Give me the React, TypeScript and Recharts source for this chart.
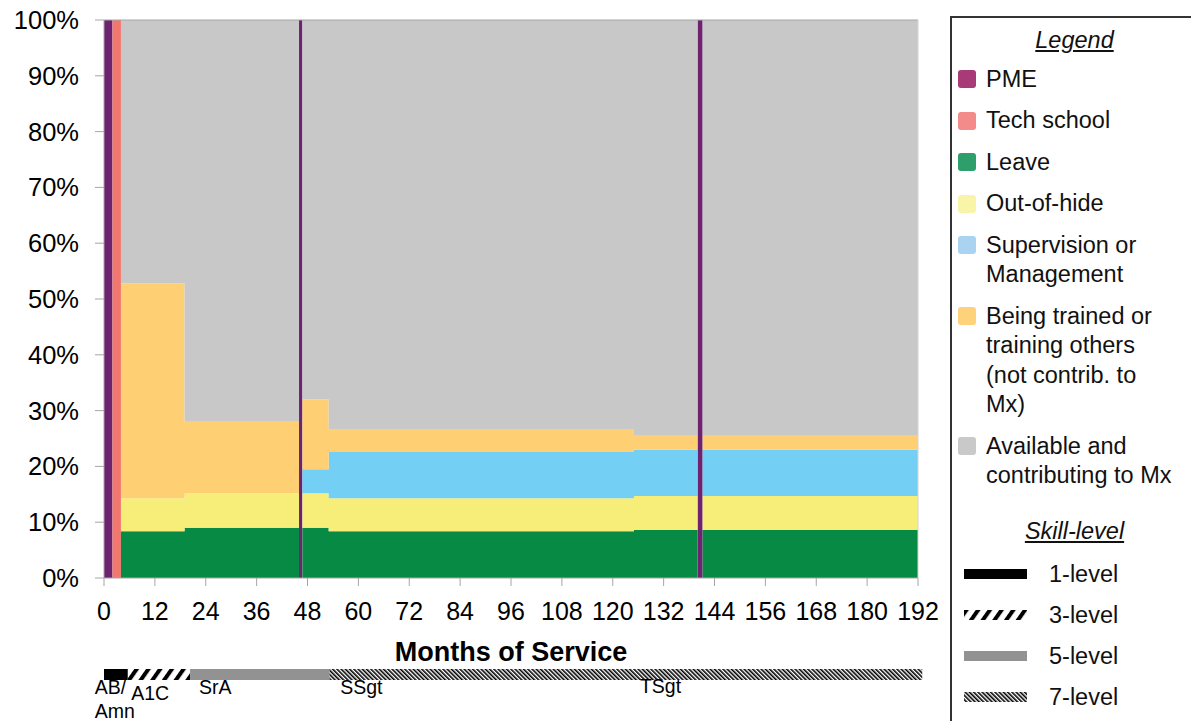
import React from 'react';
import { AreaChart, Area, XAxis, YAxis, ReferenceLine, ReferenceArea, ReferenceDot } from 'recharts';

// month at which each step starts
const months = [0, 2, 4, 19, 46, 46.8, 53, 125, 140, 141.2, 192];

// share of time (%) for each activity, per step
const pme = [100, 0, 0, 0, 100, 0, 0, 0, 100, 0, 0];
const techSchool = [0, 100, 0, 0, 0, 0, 0, 0, 0, 0, 0];
const leave = [0, 0, 8.4, 9.0, 0, 9.0, 8.4, 8.6, 0, 8.6, 8.6];
const outOfHide = [0, 0, 5.9, 6.2, 0, 6.2, 5.9, 6.1, 0, 6.1, 6.1];
const supervision = [0, 0, 0, 0, 0, 4.3, 8.3, 8.3, 0, 8.3, 8.3];
const training = [0, 0, 38.5, 12.8, 0, 12.5, 4.1, 2.5, 0, 2.5, 2.5];
const available = [0, 0, 47.2, 72.0, 0, 68.0, 73.3, 74.5, 0, 74.5, 74.5];

const xTicks = [0, 12, 24, 36, 48, 60, 72, 84, 96, 108, 120, 132, 144, 156, 168, 180, 192];
const yTicks = [0, 10, 20, 30, 40, 50, 60, 70, 80, 90, 100];

// skill-level bar under the axis
const skillLevels = ['1-level', '3-level', '5-level', '7-level'];
const skillStart = [0, 5.6, 20.3, 53.2];
const skillEnd = [5.6, 20.3, 53.2, 193];

const ranks = ['AB/Amn', 'A1C', 'SrA', 'SSgt', 'TSgt'];
const rankMonths = [-2.2, 6.4, 22.4, 55.7, 126.4];

const data = months.map((m, i) => ({
  m,
  pme: pme[i],
  tech: techSchool[i],
  leave: leave[i],
  ooh: outOfHide[i],
  sup: supervision[i],
  train: training[i],
  avail: available[i],
}));

const series = [
  { key: 'pme', name: 'PME', fill: '#6e2371', legend: '#a83a78' },
  { key: 'tech', name: 'Tech school', fill: '#f2786f', legend: '#f48b8b' },
  { key: 'leave', name: 'Leave', fill: '#068a44', legend: '#2e9e6b' },
  { key: 'ooh', name: 'Out-of-hide', fill: '#f7ee79', legend: '#f9f5a8' },
  { key: 'sup', name: 'Supervision or\nManagement', fill: '#74cff5', legend: '#a9d3f0' },
  { key: 'train', name: 'Being trained or\ntraining others\n(not contrib. to\nMx)', fill: '#fecf73', legend: '#fdd27a' },
  { key: 'avail', name: 'Available and\ncontributing to Mx', fill: '#c8c8c8', legend: '#c9c9c9' },
];

const skillFills = ['#000', 'url(#lvl3)', '#929292', 'url(#lvl7)'];
const rankDrop = [25, 31, 25, 25, 24];

const font = '"Liberation Sans", Arial, sans-serif';

const Patterns = () => (
  <svg width="0" height="0" style={{ position: 'absolute' }}>
    <defs>
      <pattern id="lvl3" patternUnits="userSpaceOnUse" width="9.6" height="20" patternTransform="rotate(35)">
        <rect x="0" y="0" width="4" height="20" fill="#000" />
      </pattern>
      <pattern id="lvl7" patternUnits="userSpaceOnUse" width="3" height="20" patternTransform="rotate(-45)">
        <rect x="0" y="0" width="1.6" height="20" fill="#000" />
      </pattern>
    </defs>
  </svg>
);

const Legend = () => (
  <div
    style={{
      position: 'absolute', left: 950, top: 16, width: 241, height: 705,
      borderLeft: '2px solid #333', borderTop: '2px solid #333', boxSizing: 'border-box',
      fontSize: 23.5, lineHeight: '29.5px', color: '#111', fontFamily: font,
    }}
  >
    <div style={{ marginTop: 8, textAlign: 'center', paddingLeft: 6, fontStyle: 'italic', textDecoration: 'underline' }}>
      Legend
    </div>
    {series.map((s, i) => (
      <div key={s.key} style={{ display: 'flex', marginTop: i === 0 ? 9 : 12 }}>
        <div style={{ width: 18, height: 18, borderRadius: 3, background: s.legend, marginLeft: 6, marginTop: 5.75, marginRight: 10, flexShrink: 0 }} />
        <div style={{ whiteSpace: 'pre-line' }}>{s.name}</div>
      </div>
    ))}
    <div style={{ marginTop: 26, textAlign: 'center', paddingLeft: 6, fontStyle: 'italic', textDecoration: 'underline' }}>
      Skill-level
    </div>
    {skillLevels.map((lvl, i) => (
      <div key={lvl} style={{ display: 'flex', marginTop: i === 0 ? 13.5 : 11.5 }}>
        <svg width="63" height="10" style={{ marginLeft: 12, marginTop: 9.75, marginRight: 22, flexShrink: 0 }}>
          <rect x="0" y="0" width="63" height="10" fill={skillFills[i]} />
        </svg>
        <div>{lvl}</div>
      </div>
    ))}
  </div>
);

const RankText = (props: any) => {
  const { cx, cy, name } = props;
  const parts = name === 'AB/Amn' ? ['AB/', 'Amn'] : [name];
  return (
    <text x={cx} y={cy} fontSize={19.5} fill="#000" fontFamily={font}>
      {parts.map((p: string, i: number) => (
        <tspan key={p} x={cx} dy={i === 0 ? 0 : 24}>{p}</tspan>
      ))}
    </text>
  );
};

export default function App() {
  return (
    <div style={{ position: 'absolute', left: 0, top: 0, width: 1191, height: 721, background: '#fff', fontFamily: font }}>
      <Patterns />
      <div style={{ position: 'absolute', left: 0, top: 0 }}>
        <AreaChart width={940} height={721} data={data} margin={{ top: 20, right: 0, left: 0, bottom: 53 }}>
          <XAxis
            dataKey="m"
            type="number"
            domain={[0, 192]}
            ticks={xTicks}
            interval={0}
            height={90}
            tickSize={8}
            tickMargin={16}
            stroke="#a6a6a6"
            tick={{ fill: '#000', fontSize: 25 }}
            label={{ value: 'Months of Service', position: 'insideBottom', offset: 7, fill: '#000', fontSize: 27, fontWeight: 'bold' }}
          />
          <YAxis
            domain={[0, 100]}
            ticks={yTicks}
            interval={0}
            width={104}
            tickSize={9}
            tickMargin={16}
            stroke="#a6a6a6"
            tick={{ fill: '#000', fontSize: 25.5 }}
            tickFormatter={(v: number) => `${v}%`}
          />
          <YAxis
            yAxisId="r"
            orientation="right"
            domain={[0, 100]}
            ticks={yTicks}
            width={22}
            tick={false}
            tickSize={3}
            stroke="#d4d4d4"
          />
          {series.map(s => (
            <Area
              key={s.key}
              dataKey={s.key}
              name={s.name}
              stackId="a"
              type="stepAfter"
              fill={s.fill}
              fillOpacity={1}
              stroke="none"
              isAnimationActive={false}
            />
          ))}
          <ReferenceLine y={100} stroke="#a6a6a6" />
        </AreaChart>
      </div>
      <div style={{ position: 'absolute', left: 0, top: 660 }}>
        <AreaChart width={940} height={61} data={data} margin={{ top: 9, right: 22, left: 104, bottom: 0 }}>
          <XAxis dataKey="m" type="number" domain={[0, 192]} allowDataOverflow hide />
          <YAxis type="number" domain={[0, 52]} allowDataOverflow reversed hide />
          <Area dataKey="leave" type="stepAfter" fill="none" stroke="none" isAnimationActive={false} />
          {skillLevels.map((lvl, i) => (
            <ReferenceArea
              key={lvl}
              x1={skillStart[i]}
              x2={skillEnd[i]}
              y1={0}
              y2={11}
              fill={skillFills[i]}
              fillOpacity={1}
              stroke="none"
              ifOverflow="visible"
            />
          ))}
          {ranks.map((r, i) => (
            <ReferenceDot
              key={r}
              x={rankMonths[i]}
              y={rankDrop[i]}
              r={0}
              ifOverflow="visible"
              shape={(p: any) => <RankText {...p} name={r} />}
            />
          ))}
        </AreaChart>
      </div>
      <Legend />
    </div>
  );
}
